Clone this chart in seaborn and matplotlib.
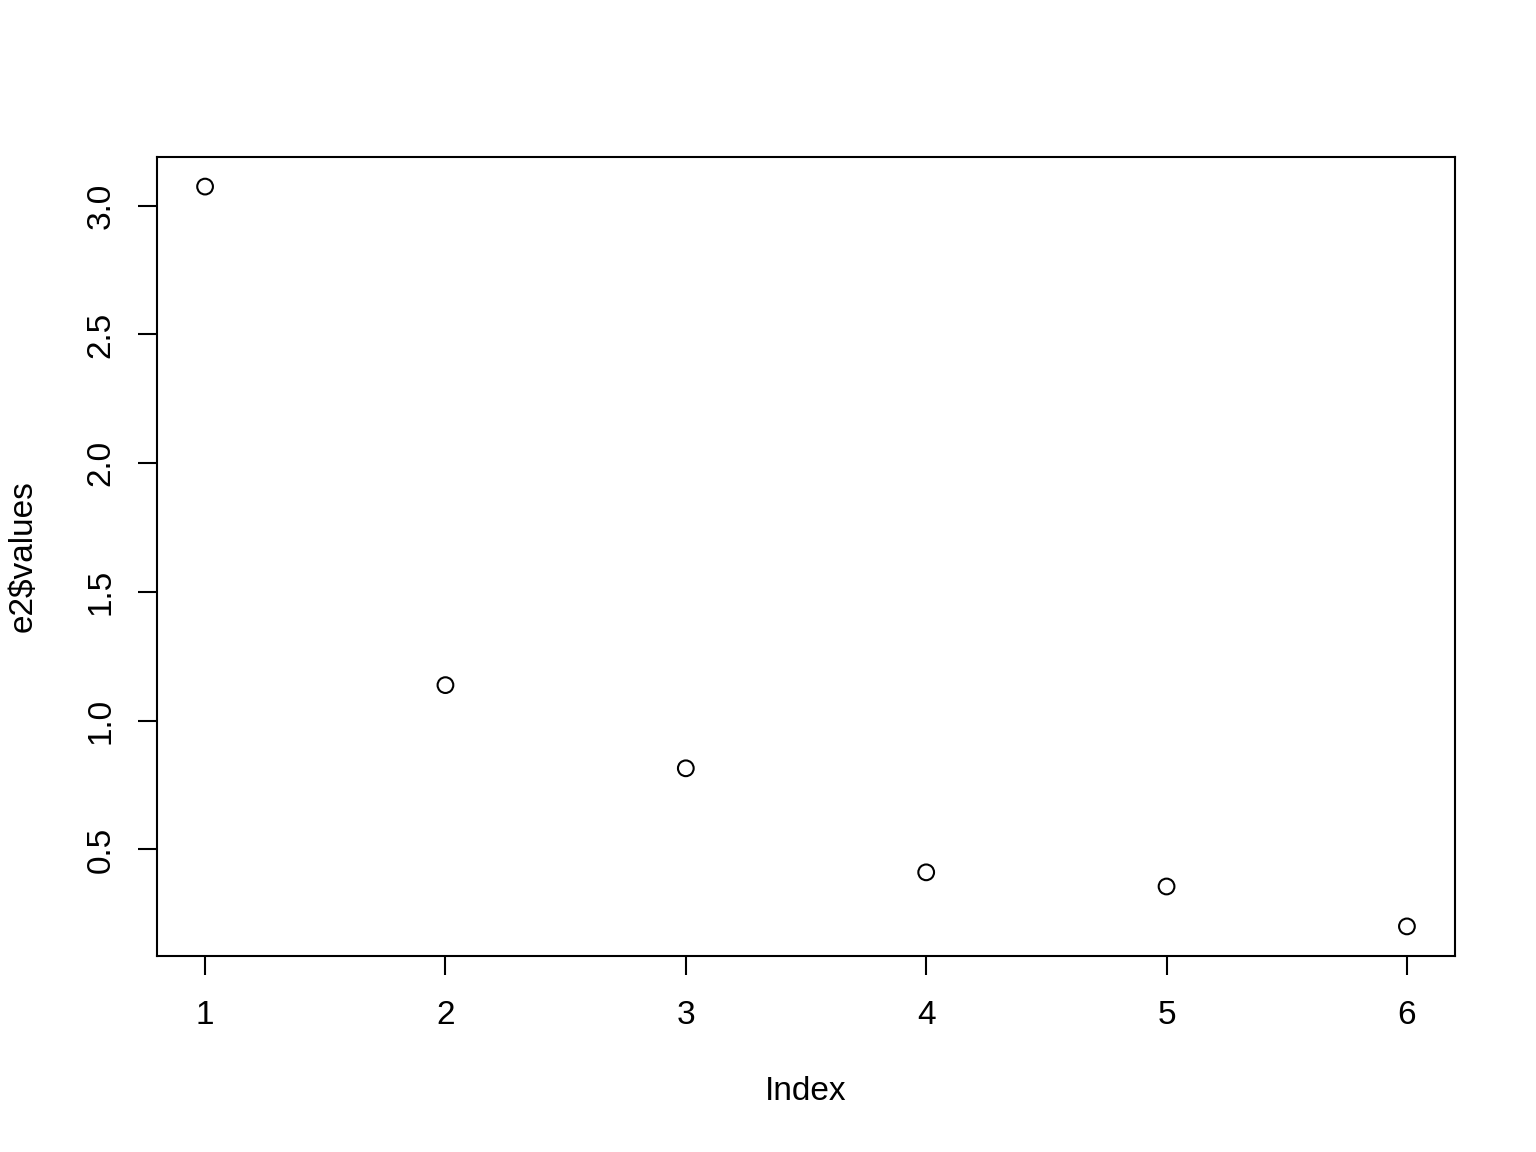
import numpy as np
import pandas as pd
import matplotlib
matplotlib.use('Agg')
import matplotlib.pyplot as plt
import seaborn as sns

# values
index = [1, 2, 3, 4, 5, 6]
values = [3.074, 1.138, 0.815, 0.411, 0.356, 0.201]
xticks = [1, 2, 3, 4, 5, 6]
yticks = [0.5, 1.0, 1.5, 2.0, 2.5, 3.0]

df = pd.DataFrame({'Index': index, 'e2$values': values})

sns.set_theme(style='white')
plt.rcParams['font.family'] = ['Liberation Sans', 'DejaVu Sans']
plt.rcParams['font.size'] = 12

fig = plt.figure(figsize=(7.68, 5.76), dpi=200)
ax = fig.add_axes([157/1536, 1 - 956/1152, (1455-157)/1536, (956-157)/1152])

sns.scatterplot(data=df, x='Index', y='e2$values', ax=ax, marker='o', s=32,
                facecolors='none', edgecolor='black', linewidth=0.75)

# R-style 4% padding
xr = max(index) - min(index)
yr = max(values) - min(values)
ax.set_xlim(min(index) - 0.04*xr, max(index) + 0.04*xr)
ax.set_ylim(min(values) - 0.04*yr, max(values) + 0.04*yr)

ax.set_xticks(xticks)
ax.set_xticklabels([str(t) for t in xticks])
ax.set_yticks(yticks)
ax.set_yticklabels([f'{t:.1f}' for t in yticks], rotation=90, va='center')

ax.tick_params(axis='both', which='major', direction='out', length=7, width=0.75,
               color='black', labelsize=12, labelcolor='black', bottom=True, left=True)
ax.tick_params(axis='x', pad=9)
ax.tick_params(axis='y', pad=7.5)

for sp in ax.spines.values():
    sp.set_visible(True)
    sp.set_color('black')
    sp.set_linewidth(0.75)

ax.set_xlabel('Index', fontsize=12, color='black', va='center')
ax.set_ylabel('e2$values', fontsize=12, color='black', va='center')
ax.xaxis.set_label_coords(0.5, (956 - 1092) / 799)
ax.yaxis.set_label_coords((23 - 157) / 1298, 0.5)

fig.savefig('out.png', dpi=200, facecolor='white')
